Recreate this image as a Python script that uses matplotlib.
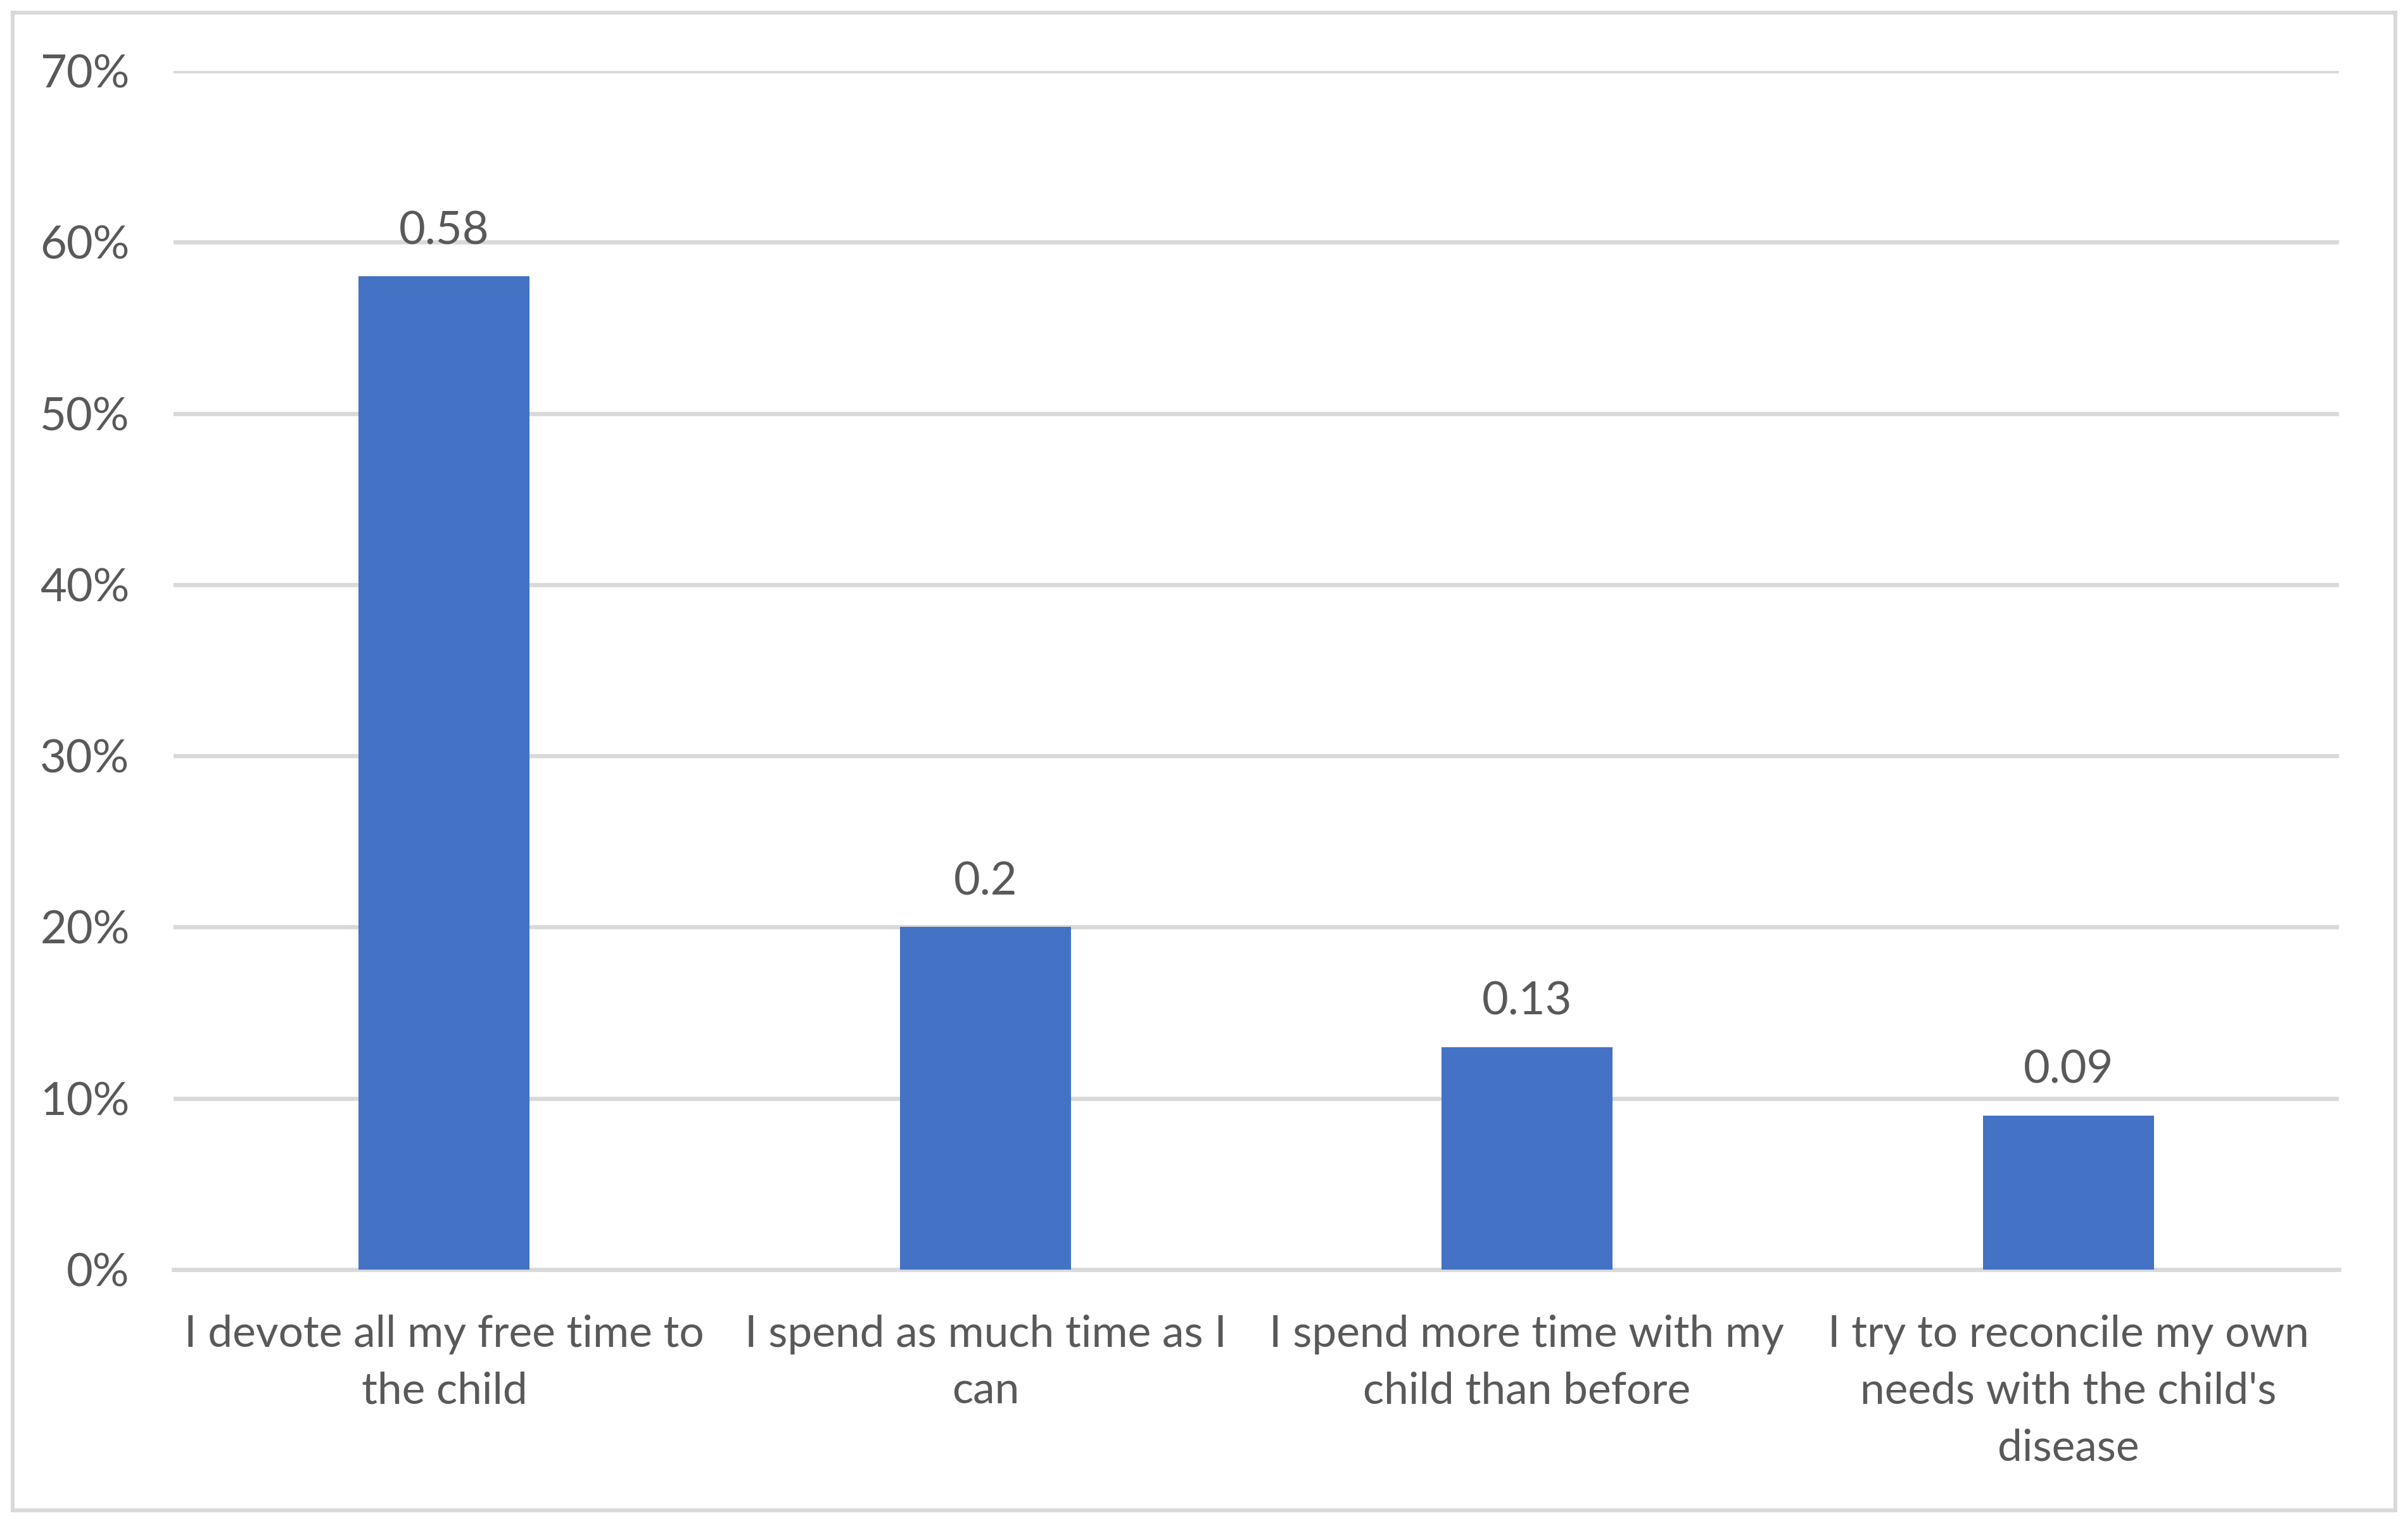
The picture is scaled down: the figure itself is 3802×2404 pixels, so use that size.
import matplotlib
matplotlib.use("Agg")
import matplotlib.pyplot as plt
from matplotlib.patches import Rectangle
from matplotlib.ticker import PercentFormatter

categories = [
    "I devote all my free time to\nthe child",
    "I spend as much time as I\ncan",
    "I spend more time with my\nchild than before",
    "I try to reconcile my own\nneeds with the child's\ndisease",
]
values = [0.58, 0.20, 0.13, 0.09]
value_labels = ["0.58", "0.2", "0.13", "0.09"]
yticks = [0.0, 0.1, 0.2, 0.3, 0.4, 0.5, 0.6, 0.7]

plt.rcParams['font.family'] = ['Lato', 'DejaVu Sans']
TXT = "#595959"
GRID = "#D9D9D9"
BAR = "#4472C4"
FS = 26

fig = plt.figure(figsize=(19.01, 12.02), dpi=200)
fig.patches.append(Rectangle((20/3802, 20/2404), 1 - 40/3802, 1 - 40/2404,
                             transform=fig.transFigure, fill=False,
                             edgecolor=GRID, linewidth=2.2, zorder=0))
ax = fig.add_axes([274/3802, 1 - 2004/2404, (3693-274)/3802, (2004-112)/2404])

x = list(range(len(categories)))
bars = ax.bar(x, values, width=0.316, color=BAR, zorder=3)
ax.set_xlim(-0.5, len(categories) - 0.5)
ax.set_ylim(0, 0.7)
ax.set_yticks(yticks)
ax.yaxis.set_major_formatter(PercentFormatter(1.0, decimals=0))
ax.grid(axis='y', color=GRID, linewidth=2.4, zorder=0)
ax.set_axisbelow(True)
for s in ['top', 'right', 'left']:
    ax.spines[s].set_visible(False)
ax.spines['bottom'].set_color(GRID)
ax.spines['bottom'].set_linewidth(2.4)
ax.tick_params(axis='both', length=0, colors=TXT, labelsize=FS)
ax.tick_params(axis='y', pad=25)
ax.set_xticks(x)
ax.set_xticklabels(categories, linespacing=1.53, fontsize=25)
ax.tick_params(axis='x', pad=25.5)

for xi, v, lab in zip(x, values, value_labels):
    ax.annotate(lab, (xi, v), xytext=(0, 14), textcoords='offset points',
                ha='center', va='bottom', fontsize=FS, color=TXT)

fig.savefig("out.png", dpi=200)
